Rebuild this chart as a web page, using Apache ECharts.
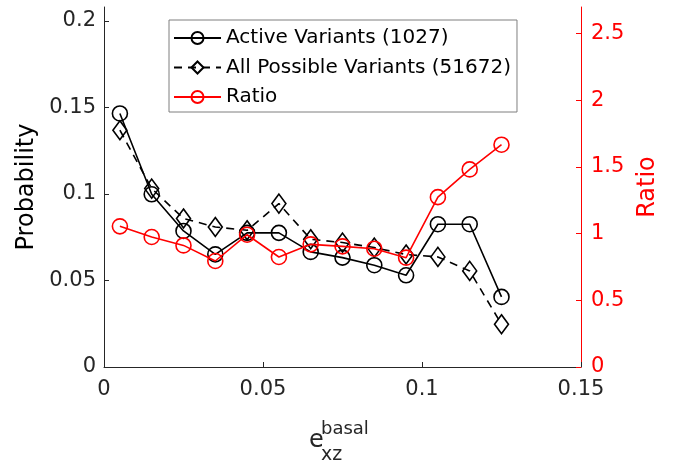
<!DOCTYPE html>
<html>
<head>
<meta charset="utf-8">
<script src="https://cdn.jsdelivr.net/npm/echarts@6/dist/echarts.min.js"></script>
<style>html,body{margin:0;padding:0;background:#fff}#c{width:673px;height:462px}</style>
</head>
<body>
<div id="c"></div>
<script>
const xValues = [0.005, 0.015, 0.025, 0.035, 0.045, 0.055, 0.065, 0.075, 0.085, 0.095, 0.105, 0.115, 0.125];
const activeVariants = [0.1465, 0.0998, 0.0786, 0.0651, 0.0775, 0.0775, 0.0665, 0.0632, 0.0588, 0.0530, 0.0825, 0.0825, 0.0405];
const allVariants = [0.1368, 0.1031, 0.0858, 0.0809, 0.0790, 0.0944, 0.0738, 0.0719, 0.0690, 0.0650, 0.0636, 0.0555, 0.0247];
const ratioValues = [1.055, 0.975, 0.912, 0.795, 0.992, 0.825, 0.920, 0.905, 0.887, 0.820, 1.274, 1.482, 1.667];
const xTicks = [0, 0.05, 0.1, 0.15];
const leftTicks = [0, 0.05, 0.1, 0.15, 0.2];
const rightTicks = [0, 0.5, 1, 1.5, 2, 2.5];
const seriesNames = ['Active Variants (1027)', 'All Possible Variants (51672)', 'Ratio'];

const FONT = 'DejaVu Sans';
const AX = '#262626';
const RED = '#ff0000';
const pair = a => xValues.map((x, i) => [x, a[i]]);

const chart = echarts.init(document.getElementById('c'), null, {renderer: 'canvas'});
chart.setOption({
  animation: false,
  backgroundColor: '#fff',
  textStyle: {fontFamily: FONT},
  grid: {left: 104, right: 92, top: 7, bottom: 95, containLabel: false},
  legend: {
    orient: 'vertical', left: 169, top: 20,
    padding: [8, 6, 5, 4],
    borderColor: '#7f7f7f', borderWidth: 1, backgroundColor: '#fff',
    itemWidth: 47, itemHeight: 15, itemGap: 9.5,
    textStyle: {fontFamily: FONT, fontSize: 20, color: '#000'},
    data: seriesNames
  },
  xAxis: {
    type: 'value', min: 0, max: 0.15, interval: 0.05,
    axisLine: {lineStyle: {color: AX, width: 1}},
    axisTick: {inside: true, length: 5, lineStyle: {color: AX}, customValues: xTicks},
    axisLabel: {color: AX, fontSize: 21, fontFamily: FONT, margin: 12, customValues: xTicks},
    splitLine: {show: false}
  },
  yAxis: [{
    type: 'value', min: 0, max: 0.208, position: 'left',
    name: 'Probability', nameLocation: 'middle', nameGap: 65, nameRotate: 90,
    nameTextStyle: {fontFamily: FONT, fontSize: 24, color: '#000'},
    axisLine: {show: true, lineStyle: {color: AX, width: 1}},
    axisTick: {show: true, inside: true, length: 5, lineStyle: {color: AX}, customValues: leftTicks},
    axisLabel: {color: AX, fontSize: 21, fontFamily: FONT, margin: 8, customValues: leftTicks},
    splitLine: {show: false}
  }, {
    type: 'value', min: 0, max: 2.7, position: 'right',
    name: 'Ratio', nameLocation: 'middle', nameGap: 46, nameRotate: 90,
    nameTextStyle: {fontFamily: FONT, fontSize: 24, color: RED},
    axisLine: {show: true, lineStyle: {color: RED, width: 1}},
    axisTick: {show: true, inside: true, length: 5, lineStyle: {color: RED}, customValues: rightTicks},
    axisLabel: {color: RED, fontSize: 21, fontFamily: FONT, margin: 10, customValues: rightTicks},
    splitLine: {show: false}
  }],
  series: [{
    name: seriesNames[0], type: 'line', yAxisIndex: 0, data: pair(activeVariants),
    symbol: 'circle', symbolSize: 15, z: 3,
    lineStyle: {color: '#000', width: 1.6},
    itemStyle: {color: 'rgba(255,255,255,0)', borderColor: '#000', borderWidth: 1.6}
  }, {
    name: seriesNames[1], type: 'line', yAxisIndex: 0, data: pair(allVariants),
    symbol: 'diamond', symbolSize: [14, 19], z: 2,
    lineStyle: {color: '#000', width: 1.6, type: [8, 6]},
    itemStyle: {color: 'rgba(255,255,255,0)', borderColor: '#000', borderWidth: 1.6}
  }, {
    name: seriesNames[2], type: 'line', yAxisIndex: 1, data: pair(ratioValues),
    symbol: 'circle', symbolSize: 15, z: 4,
    lineStyle: {color: RED, width: 1.6},
    itemStyle: {color: 'rgba(255,255,255,0)', borderColor: RED, borderWidth: 1.6}
  }],
  graphic: [
    {type: 'text', left: 309, top: 429, style: {text: 'e', font: '24px "DejaVu Sans"', fill: AX}},
    {type: 'text', left: 321, top: 420, style: {text: 'basal', font: '18px "DejaVu Sans"', fill: AX}},
    {type: 'text', left: 321, top: 446, style: {text: 'xz', font: '19px "DejaVu Sans"', fill: AX}}
  ]
});
</script>
</body>
</html>
